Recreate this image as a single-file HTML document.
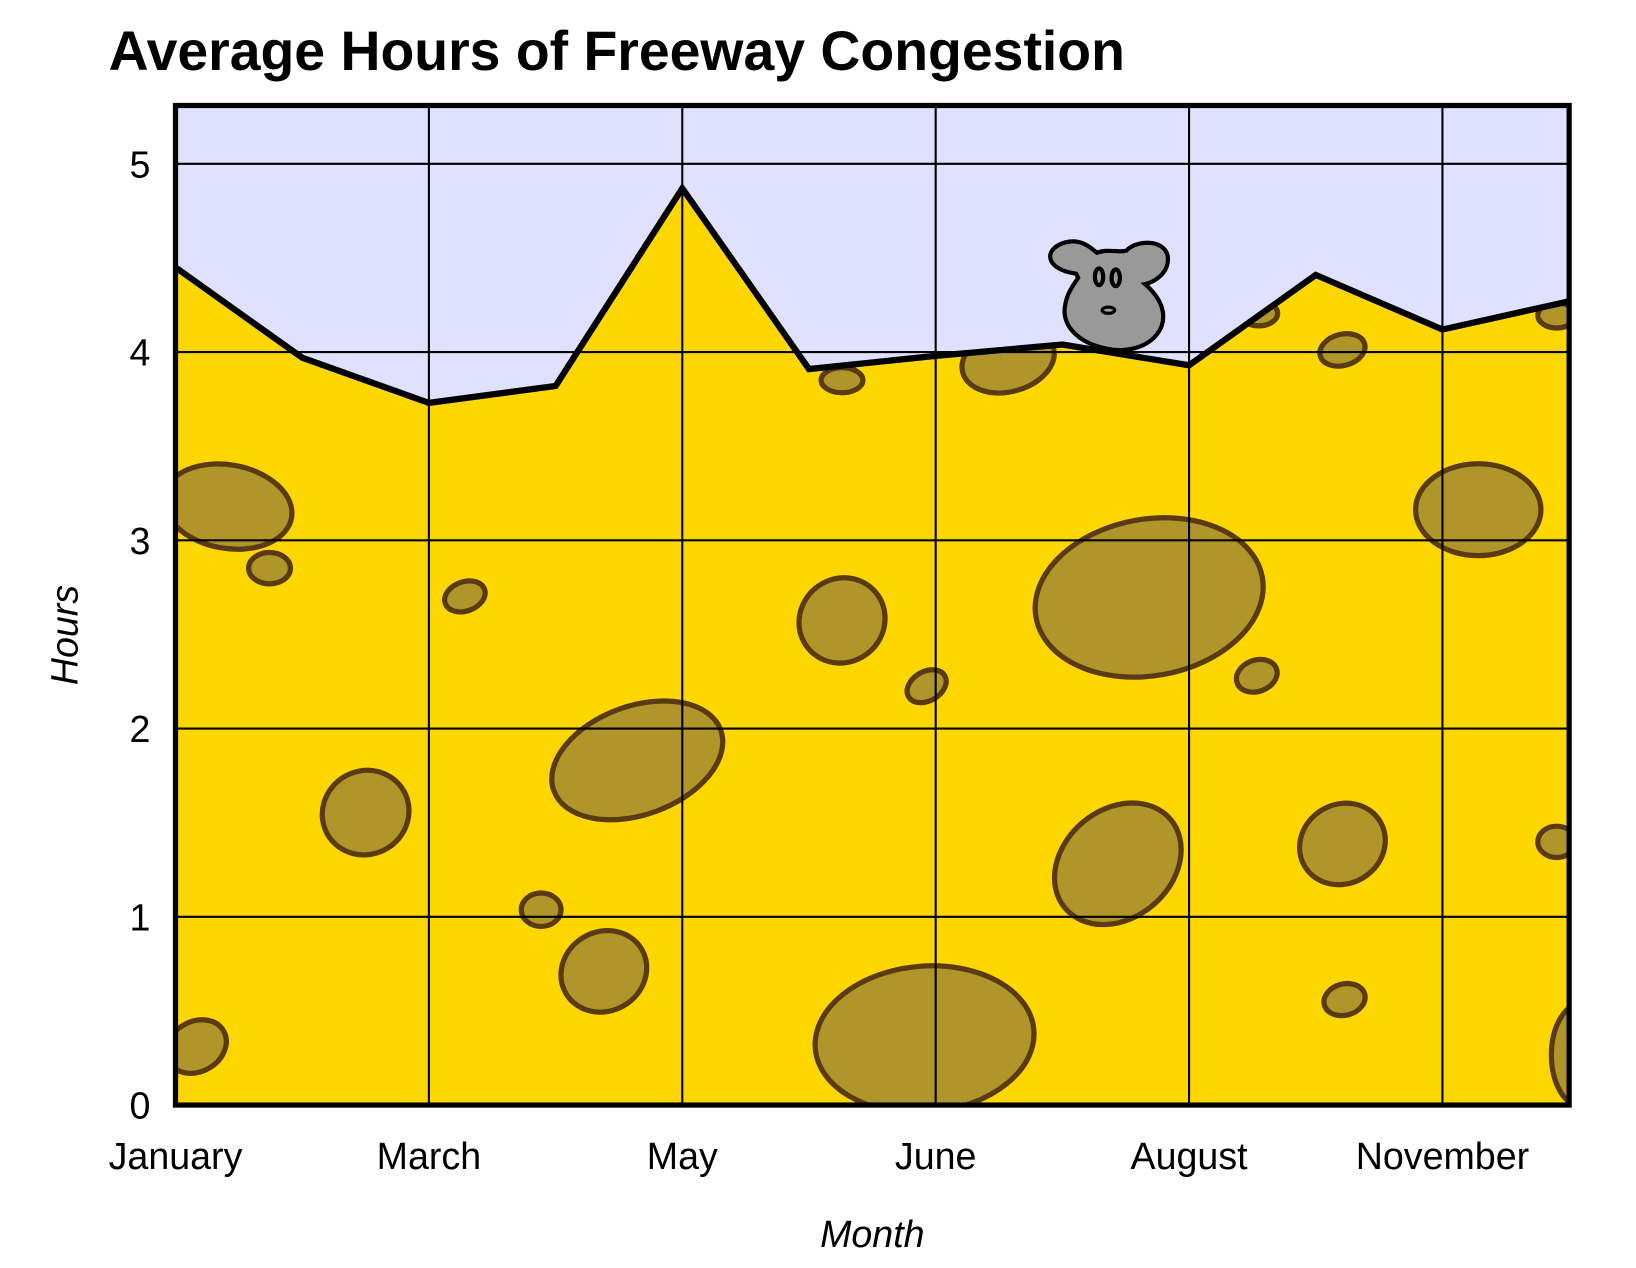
<!DOCTYPE html>
<html><head><meta charset="utf-8"><style>html,body{margin:0;padding:0;background:#fff}svg{display:block}</style></head>
<body>
<svg width="1636" height="1268" viewBox="0 0 1566 1214" preserveAspectRatio="none" xmlns="http://www.w3.org/2000/svg" font-family="Liberation Sans, sans-serif">
<rect width="1566" height="1214" fill="#fff"/>
<text x="104" y="67" font-size="53" font-weight="bold">Average Hours of Freeway Congestion</text>
<rect x="168" y="101" width="1334" height="957" fill="#E0E0FF"/>
<defs><clipPath id="areaClip"><path id="clipPath"/></clipPath></defs>
<g id="area"></g>
<g id="grid"></g>
<path id="line" fill="none" stroke="#000" stroke-width="6" stroke-linejoin="miter"/>
<g stroke="#000" stroke-width="4" fill="#999">
<path d="M1030 262 C1000 258 998 238 1020 232 C1035 228 1045 238 1050 242 C1060 238 1070 242 1078 240 C1090 228 1118 230 1118 248 C1118 262 1105 270 1096 272 C1112 286 1116 300 1112 312 C1104 332 1080 338 1060 334 C1030 328 1015 310 1020 290 C1022 280 1028 272 1032 266 Z"/>
<ellipse cx="1052" cy="265" rx="4" ry="8" fill="none"/><ellipse cx="1068" cy="266" rx="4" ry="8" fill="none"/>
<ellipse cx="1061" cy="297" rx="6" ry="3" fill="none" stroke-width="3"/>
</g>
<rect x="168" y="101" width="1334" height="957" fill="none" stroke="#000" stroke-width="5"/>
<g id="yticks"></g><g id="xticks"></g>
<text transform="translate(74,608) rotate(-90)" text-anchor="middle" font-size="36" font-style="italic">Hours</text>
<text x="835" y="1194" text-anchor="middle" font-size="36" font-style="italic">Month</text>
</svg>
<script>
const categories=["January","February","March","April","May","May2","June","July","August","September","November","December"];
const shownLabels=["January","","March","","May","","June","","August","","November",""];
const hours=[4.45,3.97,3.73,3.82,4.87,3.91,3.98,4.04,3.93,4.41,4.12,4.27];
const yTicks=[0,1,2,3,4,5];
const L=168,R=1502,T=101,B=1058,YMAX=5.31;
const NS='http://www.w3.org/2000/svg';
const xs=i=>L+(R-L)*i/(categories.length-1);
const ys=v=>B-(B-T)*v/YMAX;
function mk(tag,attrs,parent){const e=document.createElementNS(NS,tag);for(const k in attrs)e.setAttribute(k,attrs[k]);parent.appendChild(e);return e;}
let d='';hours.forEach((v,i)=>{d+=(i?'L':'M')+xs(i)+' '+ys(v)+' ';});
const areaD=d+'L'+R+' '+B+' L'+L+' '+B+' Z';
document.getElementById('clipPath').setAttribute('d',areaD);
const area=document.getElementById('area');
const cheese=mk('path',{d:areaD,fill:'#FFD700'},area);


const holes=mk('g',{'clip-path':'url(#areaClip)',fill:'#B0952B',stroke:'#5a3a10','stroke-width':5},area);


[[218,485,62,40,10],[258,544,20,15,0],[350,778,42,40,-30],[445,571,20,14,-20],[518,871,19,16,0],[610,728,85,52,-20],[578,930,42,38,-30],[806,594,42,40,-40],[887,657,20,14,-30],[806,364,20,12,0],[965,345,45,30,-15],[1100,572,110,75,-10],[1070,827,66,52,-40],[1203,647,20,15,-20],[1205,300,18,12,0],[1285,335,22,15,-15],[1285,808,42,38,-30],[1287,957,20,15,-15],[1415,488,60,44,0],[1490,806,18,15,0],[1490,302,18,12,0],[885,995,105,70,-5],[188,1002,30,24,-30],[1515,1010,30,50,0]].forEach(h=>{
 mk('ellipse',{cx:h[0],cy:h[1],rx:h[2],ry:h[3],transform:`rotate(${h[4]} ${h[0]} ${h[1]})`},holes);
});
document.getElementById('line').setAttribute('d',d);
const grid=document.getElementById('grid');
yTicks.forEach(v=>{if(v>0){const g=mk('line',{x1:L,x2:R,y1:ys(v),y2:ys(v),stroke:'#000','stroke-width':2},grid);}
 const t=mk('text',{x:144,y:ys(v)+13,'text-anchor':'end','font-size':36},document.getElementById('yticks'));t.textContent=v;
 });
shownLabels.forEach((lab,i)=>{if(!lab)return;
 if(i>0){const g=mk('line',{x1:xs(i),x2:xs(i),y1:T,y2:B,stroke:'#000','stroke-width':2},grid);}
 const t=mk('text',{x:xs(i),y:1119,'text-anchor':'middle','font-size':36},document.getElementById('xticks'));t.textContent=lab;
 });
</script>
</body></html>
